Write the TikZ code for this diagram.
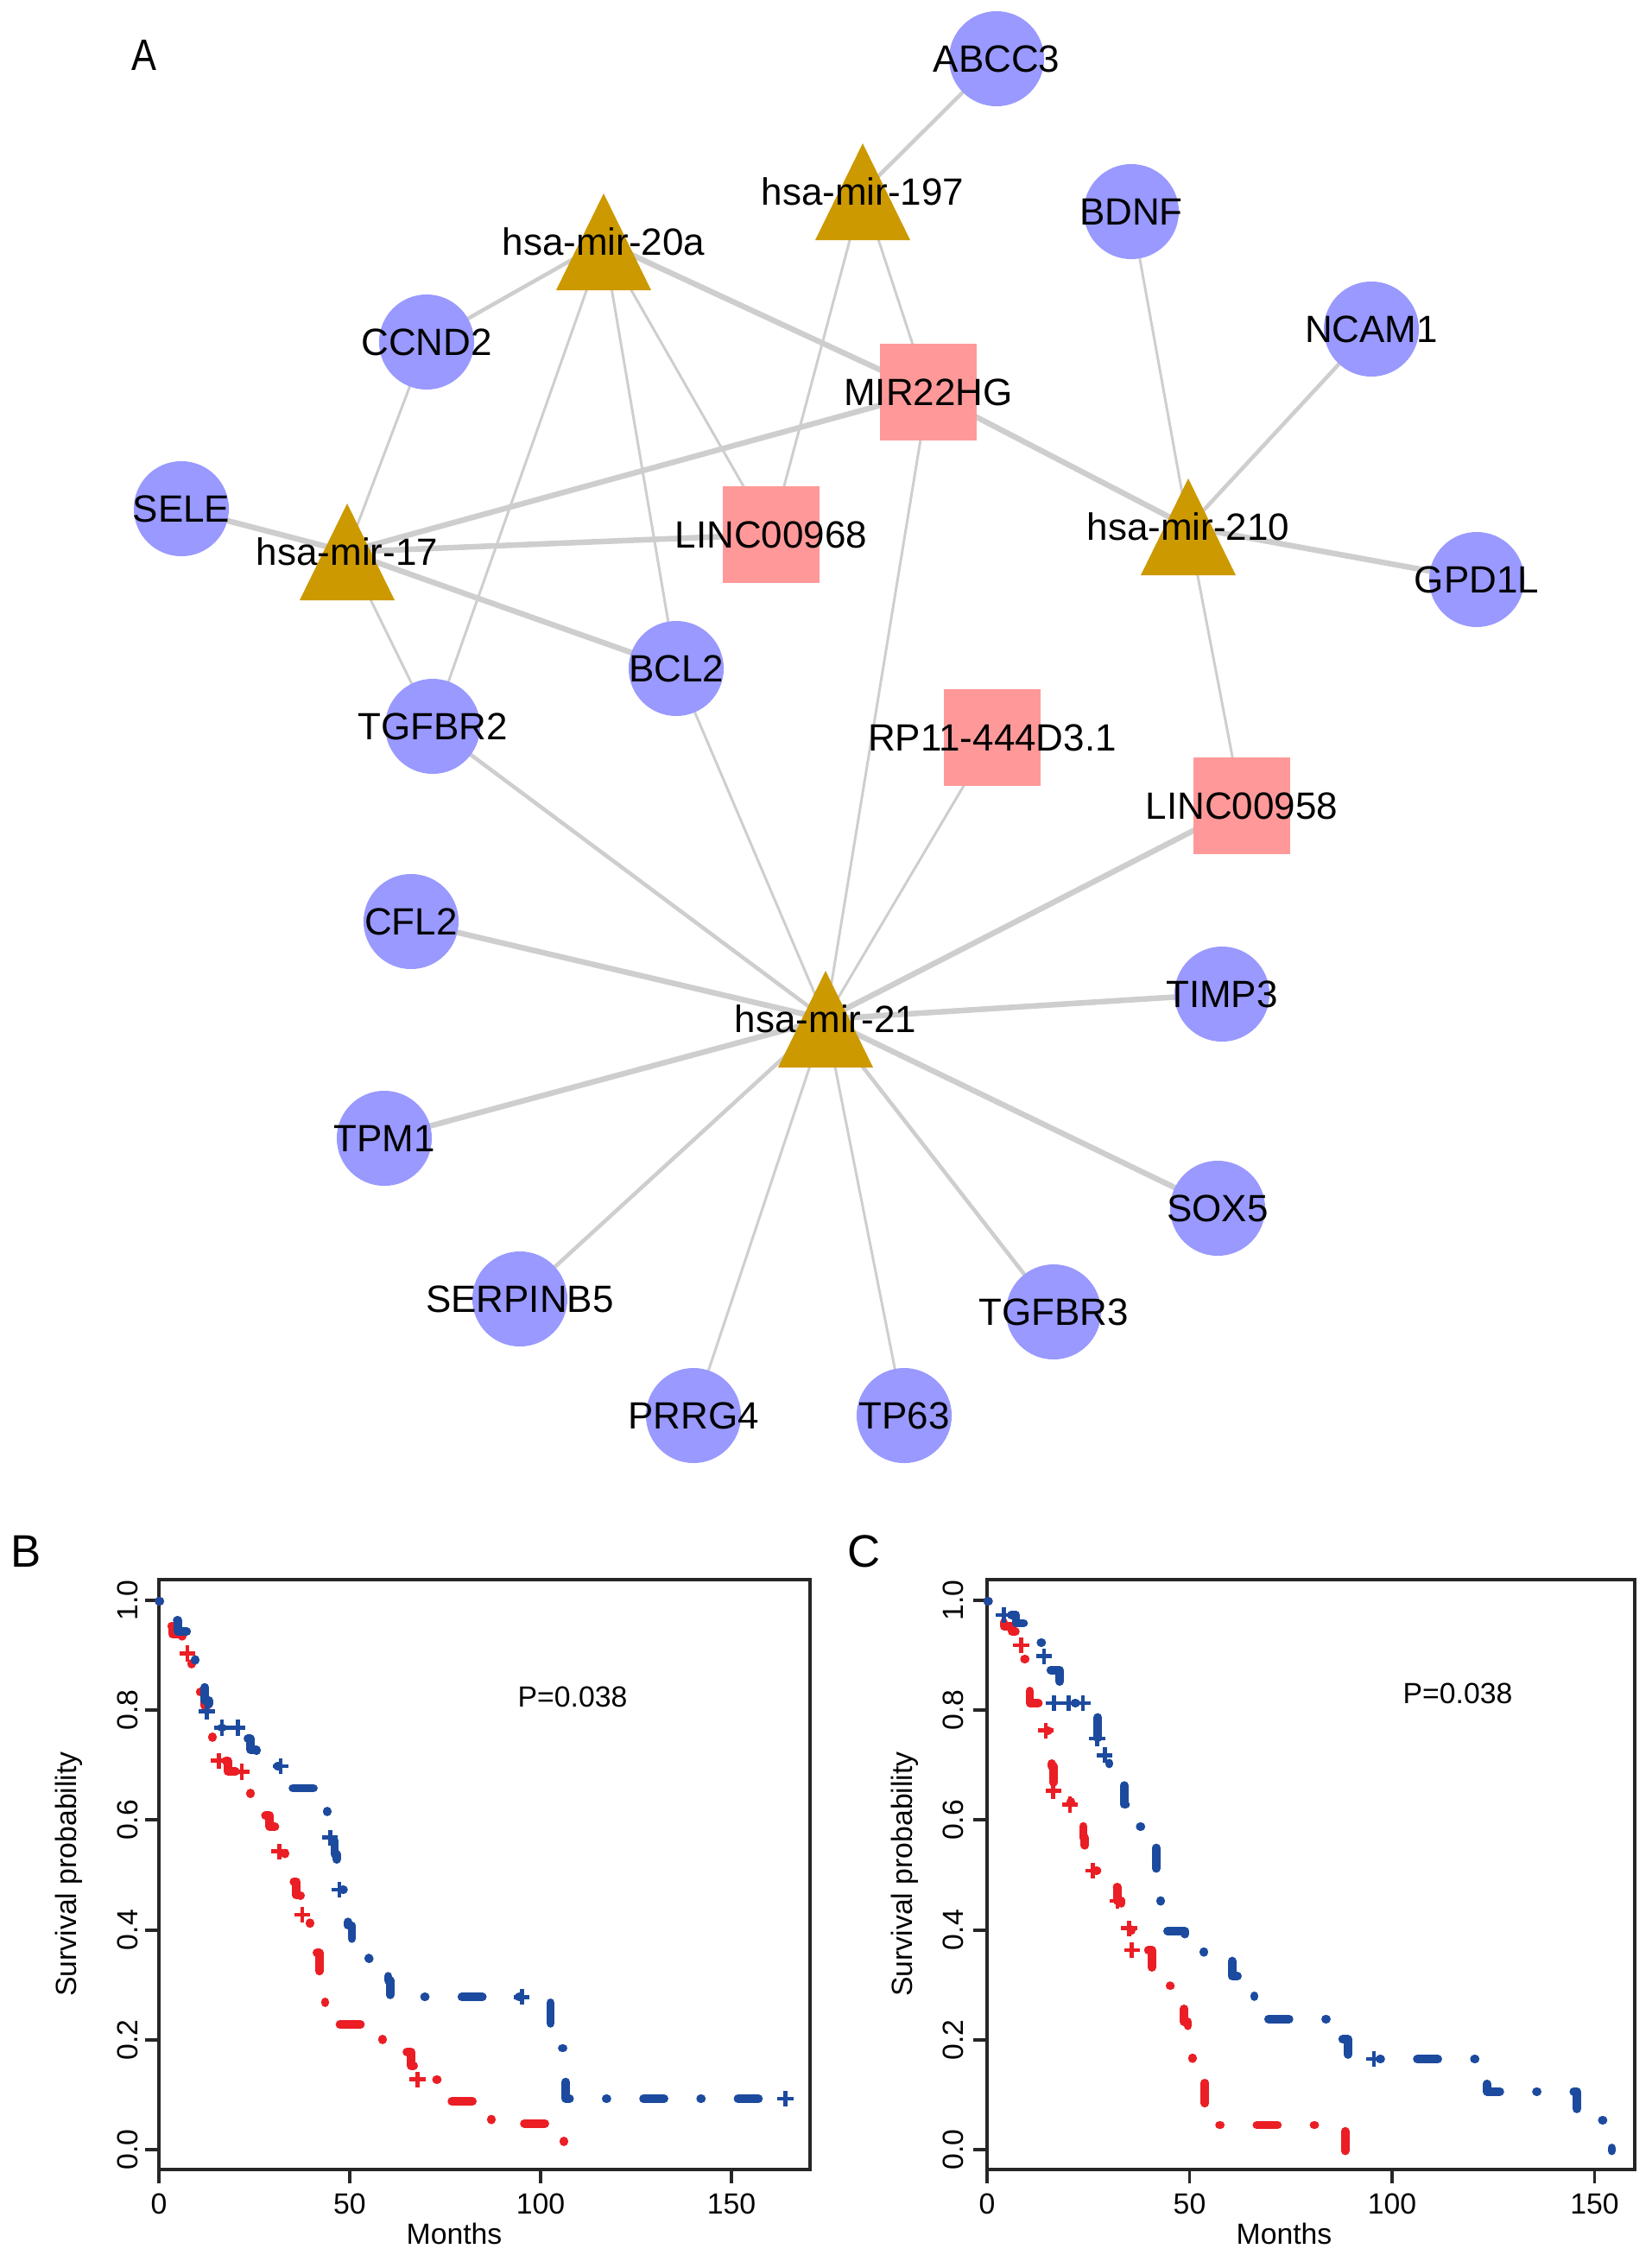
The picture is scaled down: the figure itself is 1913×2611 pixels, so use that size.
\documentclass[tikz,border=0pt]{standalone}
\usepackage{fontspec}
\setmainfont{Liberation Sans}
\definecolor{genec}{RGB}{153,153,255}
\definecolor{mirc}{RGB}{204,153,0}
\definecolor{lncc}{RGB}{255,153,153}
\definecolor{edgec}{RGB}{206,206,206}
\definecolor{kmred}{RGB}{234,30,36}
\definecolor{kmblue}{RGB}{28,74,158}
\pgfdeclarelayer{bg}
\pgfsetlayers{bg,main}
\begin{document}
\begin{tikzpicture}[x=0.01cm,y=-0.01cm,
  lblfont/.style={font=\fontsize{12.5}{15}\selectfont},
  kmfont/.style={font=\fontsize{9.6}{11.5}\selectfont},
  panelfont/.style={font=\fontsize{15}{18}\selectfont},
  every label/.style={lblfont,inner sep=0pt,text=black},
  gene/.style={circle,fill=genec,minimum size=1.1cm,inner sep=0pt},
  lnc/.style={rectangle,fill=lncc,minimum size=1.12cm,inner sep=0pt},
  mir/.style={rectangle,minimum width=1.1cm,minimum height=1.12cm,inner sep=0pt,
    path picture={\fill[mirc] (path picture bounding box.north) -- (path picture bounding box.south east) -- (path picture bounding box.south west) -- cycle;}},
  ethin/.style={draw=edgec,line width=0.85pt},
  emid/.style={draw=edgec,line width=1.3pt},
  ethick/.style={draw=edgec,line width=1.85pt},
  frame/.style={draw=black!85,line width=1.1pt},
  kmline/.style={line width=2.8pt,line cap=round,line join=round,dash pattern=on 0.3pt off 12pt on 6.8pt off 12pt},
  cens/.style={line width=1.3pt}
]
\useasboundingbox (0,0) rectangle (1913,2611);

% ---------------- Panel A ----------------
\node[font=\fontsize{14.5}{17}\selectfont,xscale=0.85] (labA) at (167,64) {A};

% genes
\node[gene,label={center:ABCC3}] (abcc3) at (1154,68) {};
\node[gene,label={center:BDNF}] (bdnf) at (1310,245) {};
\node[gene,label={center:NCAM1}] (ncam1) at (1588,381) {};
\node[gene,label={center:CCND2}] (ccnd2) at (494,396) {};
\node[gene,label={center:SELE}] (sele) at (210,589) {};
\node[gene,label={center:GPD1L}] (gpd1l) at (1710,671) {};
\node[gene,label={center:BCL2}] (bcl2) at (783,774) {};
\node[gene,label={center:TGFBR2}] (tgfbr2) at (501,841) {};
\node[gene,label={center:CFL2}] (cfl2) at (476,1067) {};
\node[gene,label={center:TIMP3}] (timp3) at (1415,1151) {};
\node[gene,label={center:TPM1}] (tpm1) at (445,1318) {};
\node[gene,label={center:SOX5}] (sox5) at (1410,1399) {};
\node[gene,label={center:SERPINB5}] (serpinb5) at (602,1504) {};
\node[gene,label={center:TGFBR3}] (tgfbr3) at (1220,1519) {};
\node[gene,label={center:PRRG4}] (prrg4) at (803,1639) {};
\node[gene,label={center:TP63}] (tp63) at (1047,1639) {};

% lncRNAs
\node[lnc,label={center:MIR22HG}] (mir22hg) at (1075,454) {};
\node[lnc,label={center:LINC00968}] (linc968) at (893,619) {};
\node[lnc,label={center:RP11-444D3.1}] (rp11) at (1149,854) {};
\node[lnc,label={center:LINC00958}] (linc958) at (1438,933) {};

% miRNAs
\node[mir,label={center:hsa-mir-197}] (m197) at (999,222) {};
\node[mir,label={center:hsa-mir-20a}] (m20a) at (699,280) {};
\node[mir,label={center:hsa-mir-17}] (m17) at (402,639) {};
\node[mir,label={center:hsa-mir-210}] (m210) at (1376,610) {};
\node[mir,label={center:hsa-mir-21}] (m21) at (956,1180) {};

\begin{pgfonlayer}{bg}
\draw[emid] (abcc3.center) -- (m197.center);
\draw[ethin] (m197.center) -- (mir22hg.center);
\draw[ethin] (m197.center) -- (linc968.center);
\draw[emid] (m20a.center) -- (ccnd2.center);
\draw[ethick] (m20a.center) -- (mir22hg.center);
\draw[ethin] (m20a.center) -- (linc968.center);
\draw[ethin] (m20a.center) -- (bcl2.center);
\draw[ethin] (m20a.center) -- (tgfbr2.center);
\draw[ethin] (ccnd2.center) -- (m17.center);
\draw[ethick] (sele.center) -- (m17.center);
\draw[ethick] (m17.center) -- (mir22hg.center);
\draw[ethick] (m17.center) -- (linc968.center);
\draw[ethick] (m17.center) -- (bcl2.center);
\draw[ethin] (m17.center) -- (tgfbr2.center);
\draw[ethin] (bdnf.center) -- (m210.center);
\draw[emid] (ncam1.center) -- (m210.center);
\draw[ethick] (gpd1l.center) -- (m210.center);
\draw[ethick] (mir22hg.center) -- (m210.center);
\draw[ethin] (m210.center) -- (linc958.center);
\draw[emid] (m21.center) -- (tgfbr2.center);
\draw[ethin] (m21.center) -- (bcl2.center);
\draw[ethin] (m21.center) -- (mir22hg.center);
\draw[ethin] (m21.center) -- (rp11.center);
\draw[ethick] (m21.center) -- (linc958.center);
\draw[ethick] (m21.center) -- (cfl2.center);
\draw[ethick] (m21.center) -- (timp3.center);
\draw[ethick] (m21.center) -- (tpm1.center);
\draw[ethick] (m21.center) -- (sox5.center);
\draw[emid] (m21.center) -- (serpinb5.center);
\draw[emid] (m21.center) -- (tgfbr3.center);
\draw[ethin] (m21.center) -- (prrg4.center);
\draw[ethin] (m21.center) -- (tp63.center);
\end{pgfonlayer}

% ---------------- Panel B ----------------
\node[panelfont] (labB) at (30,1796) {B};
\draw[frame] (184,1829) rectangle (938,2512);
\foreach \xx/\tl in {184/0,405/50,626/100,847/150}{
  \draw[frame] (\xx,2512) -- (\xx,2528);
  \node[kmfont] (bx\tl) at (\xx,2552) {\tl};
}
\foreach \yy/\tl in {2489/0.0,2361.8/0.2,2234.6/0.4,2107.4/0.6,1980.2/0.8,1853/1.0}{
  \draw[frame] (184,\yy) -- (168,\yy);
  \node[kmfont,rotate=90] (by\tl) at (148,\yy) {\tl};
}
\node[kmfont] (bxt) at (526,2586) {Months};
\node[kmfont,rotate=90] (byt) at (80,2170) {Survival probability};
\node[kmfont] (bp) at (663,1965) {P=0.038};

\begin{scope}[shift={(1.84cm,-24.89cm)},x=0.0442cm,y=6.36cm]
\draw[kmline,kmred] (0,1) -| (2,0.955) -| (3.5,0.94) -| (6,0.925) -| (7.5,0.905) -| (8.5,0.88) -| (10,0.835) -| (12,0.81) -| (14,0.75) -| (15.5,0.71) -| (18,0.69) -| (24,0.645) -| (27,0.61) -| (29,0.59) -| (30.5,0.575) -| (31.5,0.545) -| (33,0.52) -| (34.5,0.49) -| (36,0.465) -| (37,0.43) -| (39.5,0.405) -| (40.5,0.36) -| (42,0.315) -| (43.5,0.265) -| (46.5,0.23) -| (58.5,0.198) -| (64.5,0.18) -| (66,0.155) -| (67.5,0.13) -| (76.5,0.09) -| (87,0.05) -| (106,0);
\draw[kmline,kmblue] (0,1) -| (3,0.965) -| (5,0.945) -| (9.5,0.89) -| (11,0.845) -| (12,0.82) -| (13,0.80) -| (15,0.77) -| (23,0.75) -| (24,0.73) -| (25.5,0.715) -| (27,0.70) -| (34,0.66) -| (44,0.615) -| (44.5,0.57) -| (46,0.54) -| (46.5,0.51) -| (47,0.475) -| (48.5,0.44) -| (49.5,0.41) -| (50.5,0.38) -| (55,0.35) -| (60,0.31) -| (60.5,0.28) -| (102.5,0.187) -| (106.5,0.095) -- (164,0.095);
\foreach \t/\s in {7.4/0.905,15.7/0.71,21.7/0.69,31.5/0.545,37.5/0.43,67.7/0.13}
  \draw[cens,kmred] (\t,\s) +(-2.6pt,0pt) -- +(2.6pt,0pt) +(0pt,-2.6pt) -- +(0pt,2.6pt);
\foreach \t/\s in {12.5/0.80,16.5/0.77,20.6/0.77,31.9/0.70,44.8/0.57,47.2/0.475,95/0.28,164/0.095}
  \draw[cens,kmblue] (\t,\s) +(-2.6pt,0pt) -- +(2.6pt,0pt) +(0pt,-2.6pt) -- +(0pt,2.6pt);
\end{scope}

% ---------------- Panel C ----------------
\node[panelfont] (labC) at (1001,1796) {C};
\draw[frame] (1143,1829) rectangle (1893,2512);
\foreach \xx/\tl in {1143/0,1377.5/50,1612/100,1846.5/150}{
  \draw[frame] (\xx,2512) -- (\xx,2528);
  \node[kmfont] (cx\tl) at (\xx,2552) {\tl};
}
\foreach \yy/\tl in {2489/0.0,2361.8/0.2,2234.6/0.4,2107.4/0.6,1980.2/0.8,1853/1.0}{
  \draw[frame] (1143,\yy) -- (1127,\yy);
  \node[kmfont,rotate=90] (cy\tl) at (1104,\yy) {\tl};
}
\node[kmfont] (cxt) at (1487,2586) {Months};
\node[kmfont,rotate=90] (cyt) at (1048,2170) {Survival probability};
\node[kmfont] (cp) at (1688,1961) {P=0.038};

\begin{scope}[shift={(11.43cm,-24.89cm)},x=0.0469cm,y=6.36cm]
\draw[kmline,kmred] (0,1) -| (2.5,0.97) -| (4,0.955) -| (6,0.945) -| (8.5,0.92) -| (9,0.895) -| (10.4,0.815) -| (14,0.765) -| (15.4,0.73) -| (15.8,0.70) -| (16.2,0.655) -| (20.5,0.63) -| (23.2,0.60) -| (23.6,0.57) -| (24,0.545) -| (26,0.51) -| (31,0.48) -| (32,0.455) -| (33,0.435) -| (34.5,0.405) -| (35.5,0.365) -| (40.5,0.33) -| (45,0.30) -| (47.8,0.26) -| (48.5,0.235) -| (49.4,0.215) -| (50.5,0.166) -| (53.4,0.124) -| (53.6,0.047) -| (88.2,0);
\draw[kmline,kmblue] (0,1) -| (2,0.98) -| (5,0.975) -| (7,0.96) -| (9,0.95) -| (12.5,0.925) -| (14,0.90) -| (15.4,0.875) -| (17.8,0.845) -| (18,0.815) -| (27,0.795) -| (27.2,0.75) -| (28.5,0.72) -| (30,0.70) -| (33.5,0.67) -| (33.7,0.63) -| (37.4,0.59) -| (41.3,0.555) -| (41.6,0.51) -| (42.7,0.45) -| (43.5,0.40) -| (48.7,0.387) -| (53.4,0.36) -| (60.1,0.352) -| (60.3,0.318) -| (65.8,0.28) -| (68,0.24) -| (86,0.203) -| (88.9,0.167) -| (123,0.135) -| (123.2,0.108) -| (145.4,0.056) -| (154,0);
\foreach \t/\s in {8.3/0.92,14.3/0.765,16.2/0.655,20.3/0.63,26/0.51,32/0.455,34.9/0.405,35.6/0.365}
  \draw[cens,kmred] (\t,\s) +(-2.6pt,0pt) -- +(2.6pt,0pt) +(0pt,-2.6pt) -- +(0pt,2.6pt);
\foreach \t/\s in {4/0.975,13.9/0.90,16.4/0.815,20/0.815,23.5/0.815,27/0.75,28.9/0.72,95.3/0.167}
  \draw[cens,kmblue] (\t,\s) +(-2.6pt,0pt) -- +(2.6pt,0pt) +(0pt,-2.6pt) -- +(0pt,2.6pt);
\end{scope}
\end{tikzpicture}
\end{document}
